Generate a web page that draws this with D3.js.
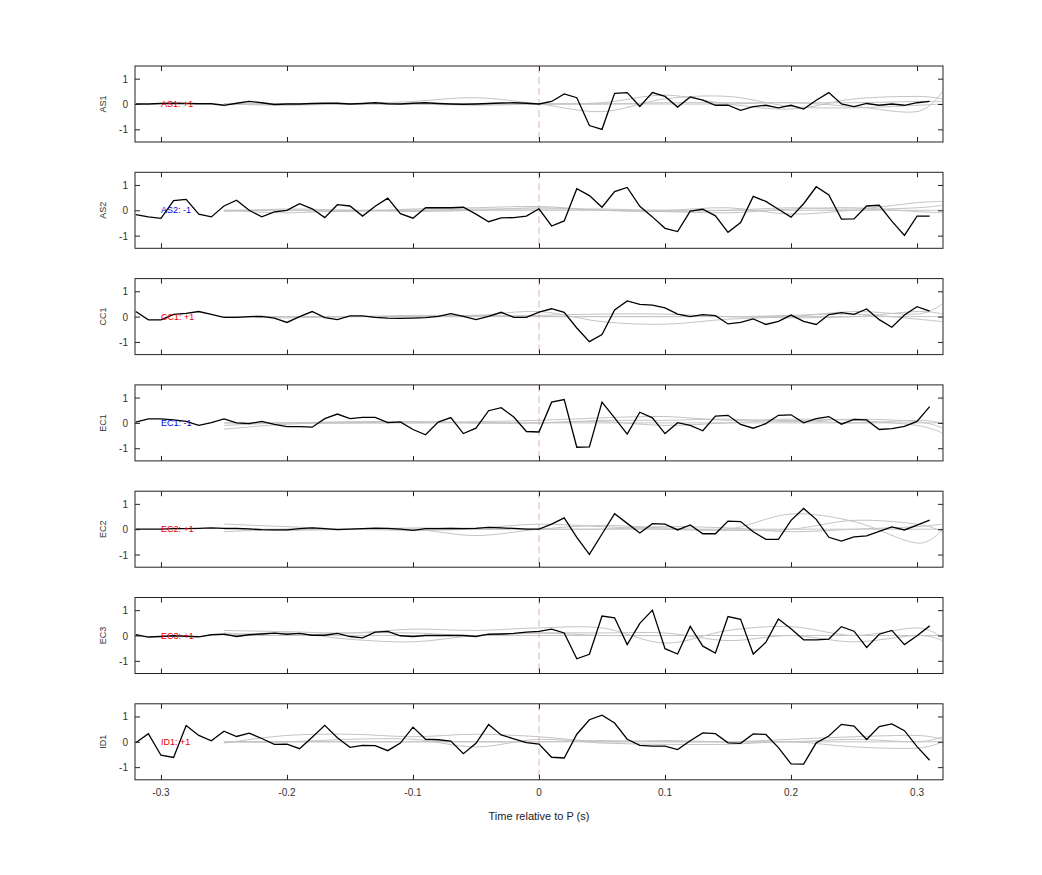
<!DOCTYPE html>
<html>
<head>
<meta charset="utf-8">
<script src="https://cdn.jsdelivr.net/npm/d3@7"></script>
<style>
  body { margin: 0; background: #fff; }
  text { font-family: "Liberation Sans", Arial, sans-serif; }
</style>
</head>
<body>
<svg id="chart" width="1042" height="875"></svg>
<script>
// sample times of the black traces, 0.01 s apart
var times = d3.range(64).map(function (i) { return +(-0.32 + i * 0.01).toFixed(2); });
// sample times of the grey comparison traces
var grayTimes = [-0.25, -0.2, -0.15, -0.1, -0.05, 0, 0.05, 0.1, 0.15, 0.2, 0.25, 0.3, 0.32];

var stations = ['AS1', 'AS2', 'CC1', 'EC1', 'EC2', 'EC3', 'ID1'];
var polarity = ['+1', '-1', '+1', '-1', '+1', '+1', '+1'];

var AS1 = [0,0,0.02,0.03,0.02,0.01,0.01,-0.05,0.03,0.1,0.05,-0.02,0,0,0.02,0.03,0.03,0,0.02,0.05,0.01,0,0.03,0.05,0.02,0,-0.01,0,0.02,0.04,0.05,0.03,
  0,0.1,0.4,0.25,-0.85,-1.0,0.42,0.45,-0.1,0.45,0.3,-0.12,0.28,0.15,-0.05,-0.05,-0.25,-0.1,-0.05,-0.15,-0.05,-0.2,0.15,0.45,0,-0.1,0.02,-0.05,0,-0.05,0.05,0.1];
var AS2 = [-0.17,-0.26,-0.32,0.38,0.43,-0.15,-0.26,0.17,0.4,0,-0.26,-0.06,0,0.26,0.06,-0.29,0.22,0.17,-0.23,0.16,0.48,-0.13,-0.31,0.1,0.1,0.1,0.12,-0.15,-0.45,-0.3,-0.29,-0.23,
  0.06,-0.62,-0.42,0.85,0.58,0.12,0.74,0.9,0.16,-0.26,-0.71,-0.84,-0.03,0.04,-0.22,-0.87,-0.48,0.55,0.35,0.04,-0.27,0.26,0.93,0.61,-0.35,-0.34,0.17,0.2,-0.43,-0.99,-0.23,-0.23];
var CC1 = [0.2,-0.13,-0.13,0.09,0.13,0.2,0.09,-0.03,-0.03,0,0.01,-0.06,-0.23,0,0.2,-0.04,-0.12,0.03,0.03,-0.03,-0.06,-0.07,-0.06,-0.04,0.01,0.12,0.01,-0.12,0.01,0.17,-0.03,-0.03,
  0.18,0.31,0.17,-0.45,-0.99,-0.71,0.26,0.62,0.48,0.45,0.34,0.1,0,0.08,0.04,-0.29,-0.23,-0.09,-0.31,-0.19,0.06,-0.19,-0.31,0.08,0.16,0.09,0.3,-0.12,-0.42,0.06,0.39,0.22];
var EC1 = [0.03,0.16,0.16,0.12,0.06,-0.1,0.01,0.16,0,-0.03,0.06,-0.06,-0.15,-0.15,-0.17,0.17,0.35,0.17,0.22,0.22,0.01,0.04,-0.26,-0.47,0.03,0.21,-0.42,-0.21,0.48,0.6,0.23,-0.34,
  -0.36,0.82,0.92,-0.96,-0.95,0.82,0.2,-0.44,0.42,0.2,-0.42,0.01,-0.1,-0.31,0.27,0.3,-0.06,-0.21,-0.03,0.3,0.32,0,0.17,0.25,-0.05,0.14,0.12,-0.26,-0.23,-0.14,0.06,0.64];
var EC2 = [0,0,0,0.02,0.02,0.03,0.05,0.03,0.03,0.01,-0.02,-0.03,-0.03,0.02,0.05,0.02,-0.02,0,0.02,0.04,0.03,0,-0.05,0.02,0.02,0.03,0.02,0.03,0.07,0.05,0.03,0,
  0,0.2,0.45,-0.32,-0.99,-0.19,0.61,0.23,-0.15,0.22,0.2,-0.03,0.17,-0.18,-0.18,0.32,0.3,-0.1,-0.4,-0.4,0.35,0.82,0.39,-0.32,-0.47,-0.3,-0.26,-0.09,0.09,-0.03,0.16,0.36];
var EC3 = [0.03,-0.06,-0.04,-0.01,-0.03,-0.05,0.03,0.05,-0.04,0.03,0.06,0.09,0.05,0.08,0.01,0.01,0.08,-0.04,-0.09,0.13,0.16,-0.01,-0.04,0,0,0,0,-0.04,0.05,0.06,0.08,0.13,
  0.16,0.25,0.1,-0.92,-0.74,0.77,0.7,-0.36,0.48,1.0,-0.52,-0.73,0.36,-0.42,-0.69,0.75,0.64,-0.73,-0.27,0.65,0.27,-0.17,-0.17,-0.14,0.35,0.17,-0.47,0.05,0.2,-0.36,-0.01,0.38];
var ID1 = [-0.04,0.32,-0.53,-0.62,0.64,0.25,0.04,0.42,0.21,0.34,0.13,-0.1,-0.09,-0.27,0.18,0.65,0.16,-0.22,-0.14,-0.15,-0.35,-0.05,0.58,0.1,0.08,0.03,-0.47,-0.06,0.68,0.27,0.12,-0.03,
  -0.09,-0.61,-0.64,0.3,0.87,1.05,0.74,0.1,-0.14,-0.17,-0.17,-0.31,0.04,0.35,0.32,-0.04,-0.06,0.31,0.29,-0.23,-0.87,-0.88,-0.04,0.23,0.69,0.62,0.09,0.6,0.71,0.44,-0.19,-0.73];

var AS1gray = [[0,0,0,0.1,0.25,0,-0.3,0.2,0.3,-0.1,-0.15,-0.05,0],[0,-0.05,0,0,-0.05,0,0.05,0.35,0,-0.2,0.2,0.3,0.2],[0,0,0,0,0,0,0,0,0,0.05,-0.1,-0.3,0.5],[0,0,0,0,0,0,0,0.05,0.05,0.05,0.05,0.1,0.1]];
var AS2gray = [[0,0,-0.05,0.05,0.1,0.15,0,-0.05,0,0.1,0.05,0.3,0.35],[0,-0.1,0,0,0.05,0.05,0.05,0,0.1,-0.15,0,0.1,0.2],[-0.05,0.05,0,-0.05,0,0.1,0,-0.05,-0.1,0.05,0.1,-0.05,-0.1],[0,0,0,0,0,0,0,0,0,0,0,0,0]];
var CC1gray = [[0,0,0,0.05,0.05,0.2,-0.2,-0.3,-0.1,0,0.2,0.1,0.5],[0,0,0,0,0,0.05,0.1,0.1,0,0.05,0.1,-0.1,-0.2],[0,-0.05,0,0,0.05,0,0,0,0,-0.05,0,0.2,0.1],[0,0,0,0,0,0,0,0,0,0,0,0,0]];
var EC1gray = [[-0.25,-0.05,0,0,0.05,0.1,0.2,0.25,0.1,0.15,0.1,-0.1,-0.4],[0,0,0.05,0.05,0,0,0.1,0.1,0.15,0.05,0.15,0.05,-0.2],[-0.1,0,0,0.05,0,0,0.05,-0.1,0,0.1,0,0.1,0],[0,0,0,0,0,0,0,0,0,0,0,0,0]];
var EC2gray = [[0.2,0.1,0,0,-0.25,0,0.15,0.05,0,0.6,0.3,-0.55,0],[0,-0.05,0,0.05,0.05,0.2,0.1,0,-0.05,0,0.35,0.2,-0.1],[-0.1,0,0,-0.05,0,0,0,0.1,0.05,-0.1,0,0.1,0.2],[0,0,0,0,0,0,0,0,0,0,0,0,0]];
var EC3gray = [[0.2,0.15,0.1,0.25,0.2,0.3,0.3,-0.3,0.2,0.35,0,0.3,-0.1],[0,0.1,-0.15,-0.25,0,0.1,0.1,0.1,-0.2,0,-0.25,0,-0.2],[0.1,0,0.1,0.1,0,0.1,0,0,0,0,0,0,0],[0,0,0,0,0,0,0,0,0,0,0,0,0]];
var ID1gray = [[-0.05,0.25,0.3,0.2,0.3,0.2,0,0.05,0,0.1,0.2,0.25,0.1],[0,0,0.1,0.1,-0.2,0.1,-0.05,-0.1,-0.1,0,-0.2,-0.25,0],[0,0,0,0,0,0,0.05,0,0,0,0.1,0,0.2],[0,0,0,0,0,0,0,0,0,0,0,0,0]];

var traces = [AS1, AS2, CC1, EC1, EC2, EC3, ID1];
var grays = [AS1gray, AS2gray, CC1gray, EC1gray, EC2gray, EC3gray, ID1gray];
var xTicks = [-0.3, -0.2, -0.1, 0, 0.1, 0.2, 0.3];
var xTickLabels = ['-0.3', '-0.2', '-0.1', '0', '0.1', '0.2', '0.3'];
var yTicks = [-1, 0, 1];
var yTickLabels = ['-1', '0', '1'];

var left = 135, width = 808, top0 = 66, ph = 76, step = 106.3;
var svg = d3.select('#chart');

var x = d3.scaleLinear().domain([-0.3206, 0.3206]).range([left, left + width]);

stations.forEach(function (name, k) {
    var top = top0 + k * step;
    var y = d3.scaleLinear().domain([-1.5, 1.5]).range([top + ph, top]);
    var g = svg.append('g');

    var line = d3.line().x(function (d, i) { return x(times[i]); }).y(function (d) { return y(d); });
    var gline = d3.line().x(function (d, i) { return x(grayTimes[i]); }).y(function (d) { return y(d); })
        .curve(d3.curveCardinal);

    g.selectAll('.gray').data(grays[k]).enter().append('path')
        .attr('fill', 'none').attr('stroke', '#c4c4c4').attr('stroke-width', 1)
        .attr('d', gline);

    g.append('line')
        .attr('x1', x(0)).attr('x2', x(0)).attr('y1', top).attr('y2', top + ph)
        .attr('stroke', '#d9a0a0').attr('stroke-dasharray', '7,4').attr('stroke-width', 0.8);

    g.append('path').attr('fill', 'none').attr('stroke', '#000').attr('stroke-width', 1.3)
        .attr('d', line(traces[k]));

    g.append('text')
        .attr('x', x(-0.3)).attr('y', y(0)).attr('dy', '0.35em')
        .attr('font-size', 9)
        .attr('fill', polarity[k] === '+1' ? '#e00' : '#00d')
        .text(name + ': ' + polarity[k]);

    // box and inward ticks
    var ax = function (sel) { sel.selectAll('.domain').remove(); sel.selectAll('line').attr('stroke', '#222'); };
    g.append('g').attr('transform', 'translate(0,' + (top + ph) + ')')
        .call(d3.axisTop(x).tickValues(xTicks).tickSize(5).tickFormat(''))
        .call(ax);
    g.append('g').attr('transform', 'translate(0,' + top + ')')
        .call(d3.axisBottom(x).tickValues(xTicks).tickSize(5).tickFormat(''))
        .call(ax);
    g.append('g').attr('transform', 'translate(' + (left + width) + ',0)')
        .call(d3.axisLeft(y).tickValues(yTicks).tickSize(5).tickFormat(''))
        .call(ax);
    var ya = g.append('g').attr('transform', 'translate(' + left + ',0)')
        .call(d3.axisRight(y).tickValues(yTicks).tickSize(5).tickFormat(''))
        .call(ax);
    ya.selectAll('.tick').append('text')
        .attr('x', -7).attr('dy', '0.35em').attr('text-anchor', 'end')
        .attr('font-size', 10).attr('fill', '#333')
        .text(function (d, i) { return yTickLabels[i]; });

    g.append('rect').attr('x', left).attr('y', top).attr('width', width).attr('height', ph)
        .attr('fill', 'none').attr('stroke', '#222').attr('stroke-width', 1);

    g.append('text')
        .attr('transform', 'translate(' + 106 + ',' + y(0) + ') rotate(-90)')
        .attr('text-anchor', 'middle').attr('font-size', 9).attr('fill', '#333')
        .text(name);

    if (k === stations.length - 1) {
        g.selectAll('.xl').data(xTicks).enter().append('text')
            .attr('x', function (d) { return x(d); }).attr('y', top + ph + 16)
            .attr('text-anchor', 'middle').attr('font-size', 10).attr('fill', '#333')
            .text(function (d, i) { return xTickLabels[i]; });
        g.append('text').attr('x', x(0)).attr('y', top + ph + 40)
            .attr('text-anchor', 'middle').attr('font-size', 11).attr('fill', '#222')
            .text('Time relative to P (s)');
    }
});
</script>
</body>
</html>
